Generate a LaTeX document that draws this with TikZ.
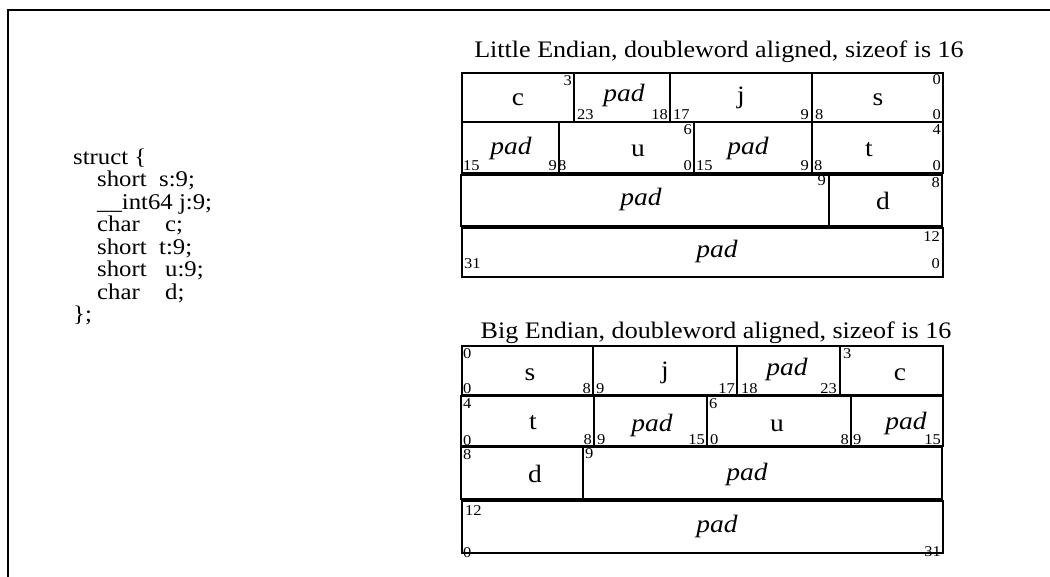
\documentclass[tikz,border=0pt]{standalone}
\usepackage{fontspec}
\setmainfont{Liberation Serif}[FakeStretch=1.1]
\begin{document}
\begin{tikzpicture}[x=1pt,y=-1pt,
  rowbox/.style={draw,line width=1.8pt},
  cellline/.style={line width=1.8pt},
  frameline/.style={line width=2pt},
  lbl/.style={font=\fontsize{25}{29}\selectfont,inner sep=0pt,anchor=base},
  padl/.style={font=\fontsize{25}{29}\selectfont\itshape,inner sep=0pt,anchor=base},
  num/.style={font=\fontsize{15}{17}\selectfont,inner sep=0pt},
  ttl/.style={font=\fontsize{23.7}{27}\selectfont,inner sep=0pt,anchor=base},
  code/.style={font=\fontsize{22.5}{26}\selectfont,inner sep=0pt,anchor=base west}]
\useasboundingbox (0,0) rectangle (1050,577);
% outer frame
\coordinate (fa) at (8,580);
\coordinate (fb) at (8,10);
\coordinate (fc) at (1053,10);
\draw[frameline] (fa) -- (fb) -- (fc);

% struct text
\node[code] (s0) at (73,165) {struct \{};
\node[code] (s1a) at (97,187) {short};
\node[code] (s1b) at (159,187) {s:9;};
\node[code] (s2a) at (97,210) {\_\_int64 j:9;};
\node[code] (s3a) at (97,232) {char};
\node[code] (s3b) at (165,232) {c;};
\node[code] (s4a) at (97,255) {short};
\node[code] (s4b) at (159,255) {t:9;};
\node[code] (s5a) at (97,277) {short};
\node[code] (s5b) at (165,277) {u:9;};
\node[code] (s6a) at (97,300) {char};
\node[code] (s6b) at (165,300) {d;};
\node[code] (s7) at (73,322) {\};};

% ================= Little Endian =================
\node[ttl] (tle) at (719,58) {Little Endian, doubleword aligned, sizeof is 16};
% row 1
\draw[rowbox] (462,73) rectangle (943,122);
\draw[cellline] (574,73) -- (574,122) (670,73) -- (670,122) (812,73) -- (812,122);
\node[lbl] (le1c) at (518,106) {c};
\node[padl] (le1p) at (624,102) {pad};
\node[lbl] (le1j) at (741,104) {j};
\node[lbl] (le1s) at (878,106) {s};
\node[num,anchor=north east] (le1n1) at (572,75) {3};
\node[num,anchor=base west] (le1n2) at (577,120) {23};
\node[num,anchor=base east] (le1n3) at (668,120) {18};
\node[num,anchor=base west] (le1n4) at (673,120) {17};
\node[num,anchor=base east] (le1n5) at (809,120) {9};
\node[num,anchor=base west] (le1n6) at (815,120) {8};
\node[num,anchor=north east] (le1n7) at (941,74) {0};
\node[num,anchor=base east] (le1n8) at (941,120) {0};
% row 2
\draw[rowbox] (462,122) rectangle (943,173);
\draw[cellline] (559,122) -- (559,173) (694,122) -- (694,173) (812,122) -- (812,173);
\node[padl] (le2p1) at (511,155) {pad};
\node[lbl] (le2u) at (638,157) {u};
\node[padl] (le2p2) at (748,155) {pad};
\node[lbl] (le2t) at (869,157) {t};
\node[num,anchor=base west] (le2n1) at (463,171) {15};
\node[num,anchor=base east] (le2n2) at (557,171) {9};
\node[num,anchor=base west] (le2n3) at (558,171) {8};
\node[num,anchor=north east] (le2n4) at (692,124) {6};
\node[num,anchor=base east] (le2n5) at (692,171) {0};
\node[num,anchor=base west] (le2n6) at (696,171) {15};
\node[num,anchor=base east] (le2n7) at (809,171) {9};
\node[num,anchor=base west] (le2n8) at (814,171) {8};
\node[num,anchor=north east] (le2n9) at (941,124) {4};
\node[num,anchor=base east] (le2n10) at (941,171) {0};
% row 3
\draw[rowbox] (461,175) rectangle (942,226);
\draw[cellline] (829,175) -- (829,226);
\node[padl] (le3p) at (641,206) {pad};
\node[lbl] (le3d) at (883,210) {d};
\node[num,anchor=north east] (le3n1) at (826,175.5) {9};
\node[num,anchor=north east] (le3n2) at (940,177) {8};
% row 4
\draw[rowbox] (462,228) rectangle (943,277);
\node[padl] (le4p) at (717,258) {pad};
\node[num,anchor=base west] (le4n1) at (464,269) {31};
\node[num,anchor=north east] (le4n2) at (940,231) {12};
\node[num,anchor=base east] (le4n3) at (940,269) {0};

% ================= Big Endian =================
\node[ttl] (tbe) at (716,339) {Big Endian, doubleword aligned, sizeof is 16};
% row 1
\draw[rowbox] (462,346) rectangle (943,395);
\draw[cellline] (593,346) -- (593,395) (737,346) -- (737,395) (840,346) -- (840,395);
\node[lbl] (be1s) at (530,381) {s};
\node[lbl] (be1j) at (665,378) {j};
\node[padl] (be1p) at (787,375) {pad};
\node[lbl] (be1c) at (900,381) {c};
\node[num,anchor=north west] (be1n1) at (463,348) {0};
\node[num,anchor=base west] (be1n2) at (463,393) {0};
\node[num,anchor=base east] (be1n3) at (591,394) {8};
\node[num,anchor=base west] (be1n4) at (596,394) {9};
\node[num,anchor=base east] (be1n5) at (735,393) {17};
\node[num,anchor=base west] (be1n6) at (741,393) {18};
\node[num,anchor=base east] (be1n7) at (837,393) {23};
\node[num,anchor=north west] (be1n8) at (843,348) {3};
% row 2
\draw[rowbox] (461,396) rectangle (943,446);
\draw[cellline] (594,396) -- (594,446) (707,396) -- (707,446) (851,396) -- (851,446);
\node[lbl] (be2t) at (533,429) {t};
\node[padl] (be2p1) at (652,431) {pad};
\node[lbl] (be2u) at (777,431) {u};
\node[padl] (be2p2) at (906,429) {pad};
\node[num,anchor=north west] (be2n1) at (463,398) {4};
\node[num,anchor=base west] (be2n2) at (463,445) {0};
\node[num,anchor=base east] (be2n3) at (592,444) {8};
\node[num,anchor=base west] (be2n4) at (597,444) {9};
\node[num,anchor=base east] (be2n5) at (705,444) {15};
\node[num,anchor=north west] (be2n6) at (709,398) {6};
\node[num,anchor=base west] (be2n7) at (710,444) {0};
\node[num,anchor=base east] (be2n8) at (849,444) {8};
\node[num,anchor=base west] (be2n9) at (853,444) {9};
\node[num,anchor=base east] (be2n10) at (941,444) {15};
% row 3
\draw[rowbox] (461,447) rectangle (942,499);
\draw[cellline] (583,447) -- (583,499);
\node[lbl] (be3d) at (535,482) {d};
\node[padl] (be3p) at (747,480) {pad};
\node[num,anchor=north west] (be3n1) at (463,449) {8};
\node[num,anchor=north west] (be3n2) at (585,448) {9};
% row 4
\draw[rowbox] (462,501) rectangle (943,553);
\node[padl] (be4p) at (717,532) {pad};
\node[num,anchor=north west] (be4n1) at (465,505) {12};
\node[num,anchor=base west] (be4n2) at (463,557) {0};
\node[num,anchor=base east] (be4n3) at (941,556) {31};
\end{tikzpicture}
\end{document}
